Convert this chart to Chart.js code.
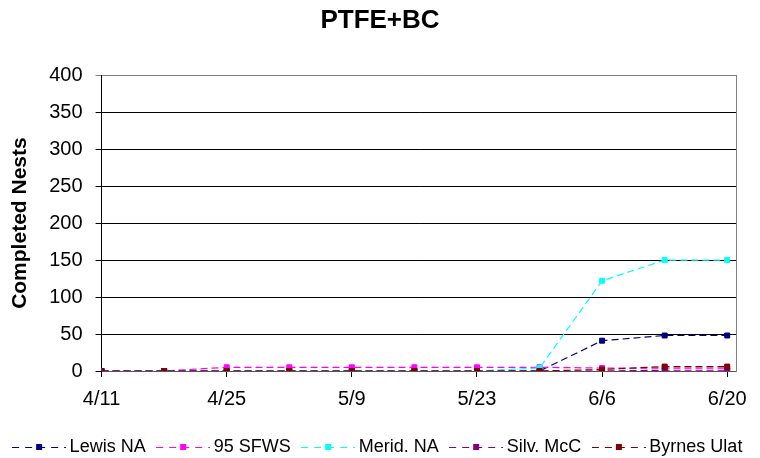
<!DOCTYPE html>
<html>
<head>
<meta charset="utf-8">
<script src="https://cdn.jsdelivr.net/npm/chart.js@4"></script>
<style>
  body { margin: 0; background: #fff; }
</style>
</head>
<body>
<canvas id="grafico" width="760" height="458"></canvas>
<script>
// days since 4/11
const dias = [0, 7, 14, 21, 28, 35, 42, 49, 56, 63, 70];
const tickDias = [0, 14, 28, 42, 56, 70];
const tickNomes = ["4/11", "4/25", "5/9", "5/23", "6/6", "6/20"];

const nomes = ["Lewis NA", "95 SFWS", "Merid. NA", "Silv. McC", "Byrnes Ulat"];
const cores = ["#000080", "#FF00FF", "#00FFFF", "#800080", "#800000"];

const lewis  = [0, 0, 0, 0, 0, 0, 0, 0, 41, 48, 48];
const sfws   = [0, 0, 5, 5, 5, 5, 5, 5, 4, 4, 4];
const merid  = [0, 0, 0, 0, 0, 0, 0, 4, 122, 150, 150];
const silv   = [0, 0, 0, 0, 0, 0, 0, 0, 0, 1, 1];
const byrnes = [0, 0, 0, 0, 0, 0, 0, 0, 2, 6, 6];

const series = [lewis, sfws, merid, silv, byrnes];

Chart.defaults.font.family = "'Liberation Sans', Arial, sans-serif";
Chart.defaults.color = "#000";

// little "- -■- -" picture for the legend
function iconeLegenda(cor) {
    const c = document.createElement("canvas");
    c.width = 54;
    c.height = 10;
    const ctx = c.getContext("2d");
    ctx.strokeStyle = cor;
    ctx.lineWidth = 1;
    ctx.setLineDash([7, 6]);
    ctx.beginPath();
    ctx.moveTo(0, 5.5);
    ctx.lineTo(54, 5.5);
    ctx.stroke();
    ctx.fillStyle = cor;
    ctx.fillRect(24, 2, 6, 6);
    return c;
}
const icones = cores.map(iconeLegenda);

const datasets = series.map((vals, i) => ({
    label: nomes[i],
    data: vals.map((v, k) => ({ x: dias[k], y: v })),
    borderColor: cores[i],
    backgroundColor: cores[i],
    borderWidth: 1.2,
    borderDash: [7, 4],
    pointStyle: "rect",
    pointRadius: 3.5,
    pointBorderWidth: 1,
    pointHoverRadius: 3.5,
    order: series.length - i,
    tension: 0
}));

const conf = {
    type: "line",
    data: { datasets: datasets },
    options: {
        responsive: false,
        animation: false,
        devicePixelRatio: 1,
        layout: { padding: { left: 0, right: 0, top: 0, bottom: -8 } },
        plugins: {
            title: {
                display: true,
                text: "PTFE+BC",
                font: { size: 26, weight: "bold" },
                padding: { top: 5, bottom: 39 }
            },
            legend: {
                position: "bottom",
                labels: {
                    usePointStyle: true,
                    pointStyleWidth: 43,
                    boxHeight: 10,
                    padding: 16,
                    font: { size: 18, lineHeight: 1 },
                    generateLabels: (chart) => chart.data.datasets.map((ds, i) => ({
                        text: ds.label,
                        pointStyle: icones[i],
                        fillStyle: cores[i],
                        strokeStyle: cores[i],
                        lineWidth: 0,
                        hidden: false,
                        datasetIndex: i
                    }))
                }
            },
            tooltip: { enabled: false }
        },
        scales: {
            x: {
                type: "linear",
                min: 0,
                max: 71,
                afterBuildTicks: (axis) => {
                    axis.ticks = tickDias.map(v => ({ value: v }));
                },
                ticks: {
                    font: { size: 20, lineHeight: 0.95 },
                    padding: 13,
                    maxRotation: 0,
                    callback: (v) => tickNomes[tickDias.indexOf(v)]
                },
                grid: {
                    drawOnChartArea: false,
                    tickLength: 6,
                    color: "#000"
                },
                border: { color: "#555" }
            },
            y: {
                min: 0,
                max: 400,
                ticks: {
                    stepSize: 50,
                    font: { size: 20 },
                    padding: 13
                },
                title: {
                    display: true,
                    text: "Completed Nests",
                    font: { size: 21, weight: "bold" },
                    padding: { top: 8, bottom: 3 }
                },
                grid: {
                    tickLength: 6,
                    color: (c) => c.tick && c.tick.value === 400 ? "#808080" : "#000"
                },
                border: { color: "#000" }
            },
            y2: {
                position: "right",
                min: 0,
                max: 400,
                ticks: { display: false },
                grid: { drawOnChartArea: false, tickLength: 0 },
                border: { color: "#808080" },
                afterFit: (axis) => { axis.width = 22; }
            }
        }
    }
};

new Chart(document.getElementById("grafico"), conf);
</script>
</body>
</html>
